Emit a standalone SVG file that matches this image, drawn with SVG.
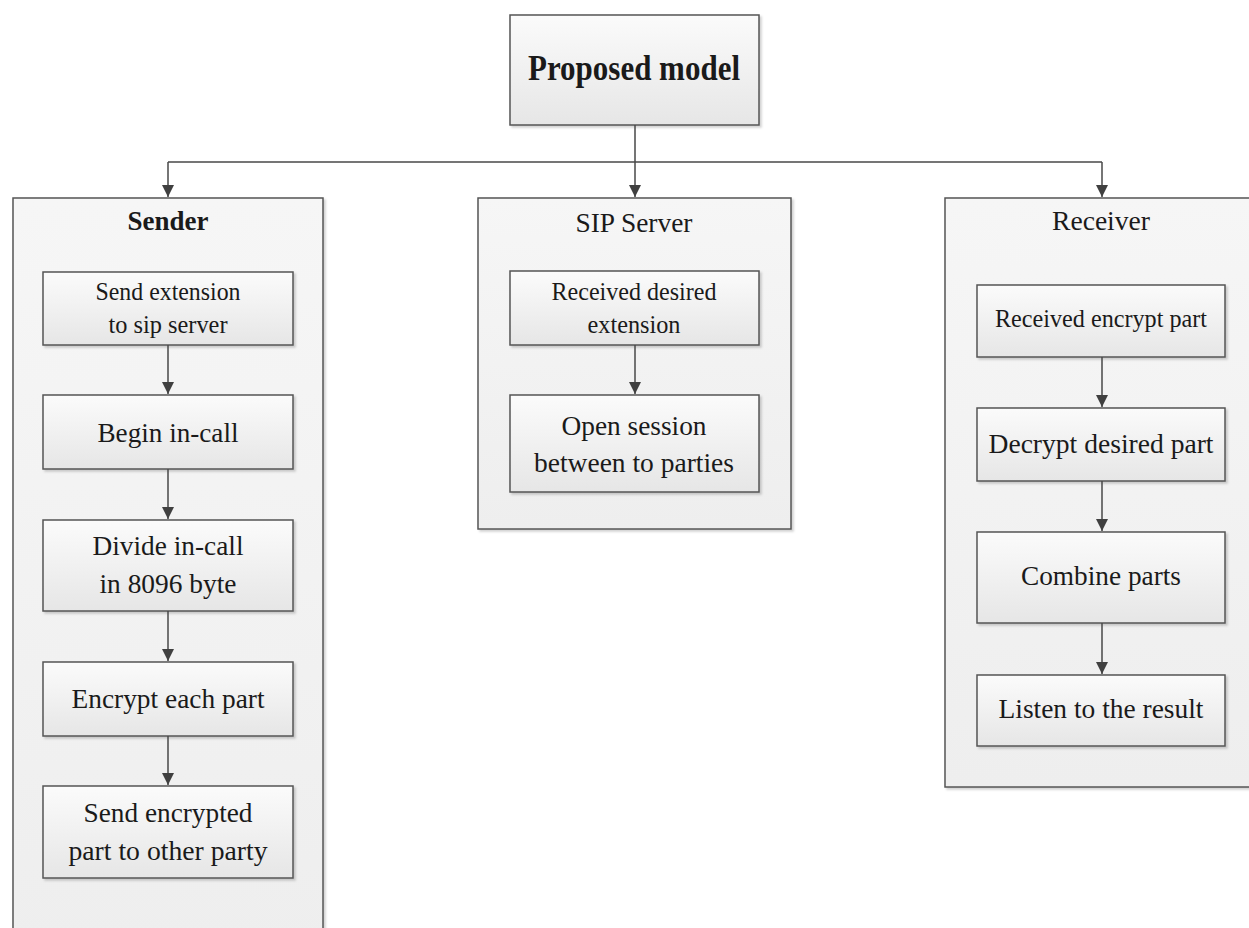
<svg xmlns="http://www.w3.org/2000/svg" width="1249" height="928" viewBox="0 0 1249 928">
  <defs>
    <linearGradient id="stepFill" x1="0" y1="0" x2="0" y2="1">
      <stop offset="0" stop-color="#fbfbfb"/>
      <stop offset="1" stop-color="#e6e6e6"/>
    </linearGradient>
    <linearGradient id="laneFill" x1="0" y1="0" x2="0" y2="1">
      <stop offset="0" stop-color="#f6f6f6"/>
      <stop offset="1" stop-color="#eeeeee"/>
    </linearGradient>
    <filter id="shadow" x="-5%" y="-5%" width="115%" height="115%">
      <feDropShadow dx="2" dy="2" stdDeviation="1.2" flood-color="#000" flood-opacity="0.18"/>
    </filter>
    <marker id="arrow" viewBox="0 0 12 12" refX="12" refY="6" markerWidth="12" markerHeight="12" markerUnits="userSpaceOnUse" orient="auto">
      <path d="M0,0 L12,6 L0,12 Z" fill="#404040"/>
    </marker>
  </defs>
  <style>
    .lane { fill: url(#laneFill); stroke: #555; stroke-width: 1.5; filter: url(#shadow); }
    .step { fill: url(#stepFill); stroke: #555; stroke-width: 1.5; filter: url(#shadow); }
    .link { fill: none; stroke: #484848; stroke-width: 1.5; }
    .arr { marker-end: url(#arrow); }
    text { font-family: "Liberation Serif", "Times New Roman", serif; fill: #1a1a1a; text-anchor: middle; }
    .t { font-size: 28px; }
    .s { font-size: 25px; }
    .h { font-size: 28px; }
    .b { font-weight: bold; }
  </style>

  <rect width="1249" height="928" fill="#ffffff"/>

  <!-- top level -->
  <g id="proposed-model">
    <rect class="step" x="510" y="15" width="249" height="110"/>
    <text class="b" x="634" y="80" font-size="35" textLength="212" lengthAdjust="spacingAndGlyphs">Proposed model</text>
  </g>

  <!-- lanes -->
  <g id="sender">
    <rect class="lane" x="13" y="198" width="310" height="760"/>
    <text class="h b" x="168" y="230" textLength="81" lengthAdjust="spacingAndGlyphs">Sender</text>
  </g>
  <g id="sip-server">
    <rect class="lane" x="478" y="198" width="313" height="331"/>
    <text class="h" x="634" y="232" textLength="117" lengthAdjust="spacingAndGlyphs">SIP Server</text>
  </g>
  <g id="receiver">
    <rect class="lane" x="945" y="198" width="330" height="589"/>
    <text class="h" x="1101" y="230" textLength="98" lengthAdjust="spacingAndGlyphs">Receiver</text>
  </g>

  <!-- sender steps -->
  <g id="send-extension">
    <rect class="step" x="43" y="272" width="250" height="73"/>
    <text class="s" x="168" y="300" textLength="145" lengthAdjust="spacingAndGlyphs">Send extension</text>
    <text class="s" x="168" y="333" textLength="119" lengthAdjust="spacingAndGlyphs">to sip server</text>
  </g>
  <g id="begin-in-call">
    <rect class="step" x="43" y="395" width="250" height="74"/>
    <text class="t" x="168" y="442" textLength="141" lengthAdjust="spacingAndGlyphs">Begin in-call</text>
  </g>
  <g id="divide-in-call">
    <rect class="step" x="43" y="520" width="250" height="91"/>
    <text class="t" x="168" y="555" textLength="151" lengthAdjust="spacingAndGlyphs">Divide in-call</text>
    <text class="t" x="168" y="593" textLength="137" lengthAdjust="spacingAndGlyphs">in 8096 byte</text>
  </g>
  <g id="encrypt-each-part">
    <rect class="step" x="43" y="662" width="250" height="74"/>
    <text class="t" x="168" y="708" textLength="193" lengthAdjust="spacingAndGlyphs">Encrypt each part</text>
  </g>
  <g id="send-encrypted">
    <rect class="step" x="43" y="786" width="250" height="92"/>
    <text class="t" x="168" y="822" textLength="169" lengthAdjust="spacingAndGlyphs">Send encrypted</text>
    <text class="t" x="168" y="860" textLength="199" lengthAdjust="spacingAndGlyphs">part to other party</text>
  </g>

  <!-- sip server steps -->
  <g id="received-desired-extension">
    <rect class="step" x="510" y="271" width="249" height="74"/>
    <text class="s" x="634" y="300" textLength="165" lengthAdjust="spacingAndGlyphs">Received desired</text>
    <text class="s" x="634" y="333" textLength="93" lengthAdjust="spacingAndGlyphs">extension</text>
  </g>
  <g id="open-session">
    <rect class="step" x="510" y="395" width="249" height="97"/>
    <text class="t" x="634" y="435" textLength="145" lengthAdjust="spacingAndGlyphs">Open session</text>
    <text class="t" x="634" y="472" textLength="200" lengthAdjust="spacingAndGlyphs">between to parties</text>
  </g>

  <!-- receiver steps -->
  <g id="received-encrypt-part">
    <rect class="step" x="977" y="285" width="248" height="72"/>
    <text class="s" x="1101" y="327" textLength="212" lengthAdjust="spacingAndGlyphs">Received encrypt part</text>
  </g>
  <g id="decrypt-desired-part">
    <rect class="step" x="977" y="408" width="248" height="73"/>
    <text class="t" x="1101" y="453" textLength="225" lengthAdjust="spacingAndGlyphs">Decrypt desired part</text>
  </g>
  <g id="combine-parts">
    <rect class="step" x="977" y="532" width="248" height="91"/>
    <text class="t" x="1101" y="585" textLength="160" lengthAdjust="spacingAndGlyphs">Combine parts</text>
  </g>
  <g id="listen-result">
    <rect class="step" x="977" y="675" width="248" height="71"/>
    <text class="t" x="1101" y="718" textLength="205" lengthAdjust="spacingAndGlyphs">Listen to the result</text>
  </g>

  <!-- connectors -->
  <g id="connectors">
    <path class="link" d="M635,125 V162 M168,162 H1102"/>
    <path class="link arr" d="M635,162 V197"/>
    <path class="link arr" d="M168,162 V197"/>
    <path class="link arr" d="M1102,162 V197"/>

    <path class="link arr" d="M168,345 V394"/>
    <path class="link arr" d="M168,469 V519"/>
    <path class="link arr" d="M168,611 V661"/>
    <path class="link arr" d="M168,736 V785"/>

    <path class="link arr" d="M635,345 V394"/>

    <path class="link arr" d="M1102,357 V407"/>
    <path class="link arr" d="M1102,481 V531"/>
    <path class="link arr" d="M1102,623 V674"/>
  </g>
</svg>
